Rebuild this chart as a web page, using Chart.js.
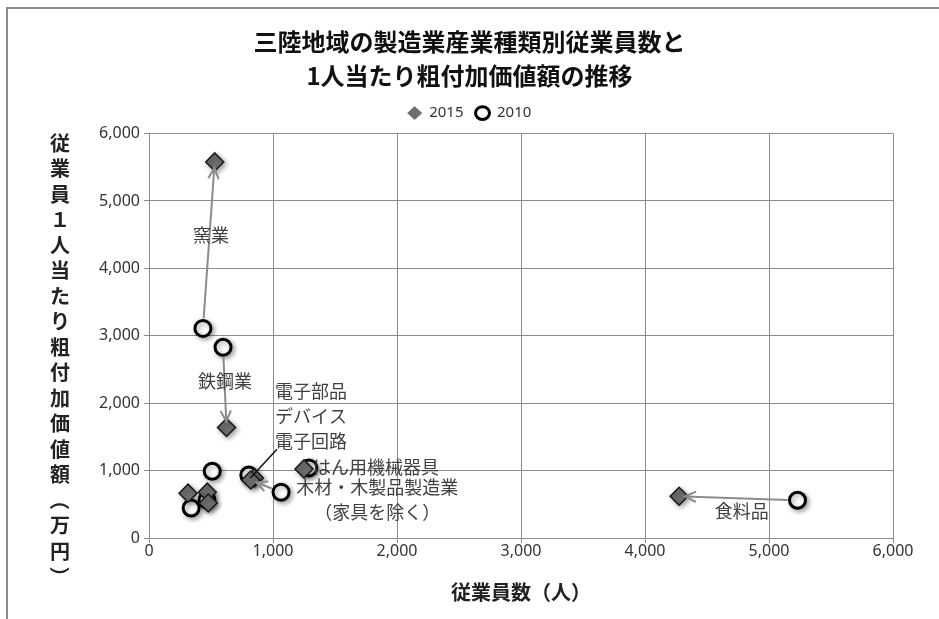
<!DOCTYPE html>
<html>
<head>
<meta charset="utf-8">
<script src="https://cdn.jsdelivr.net/npm/chart.js@4.4.0/dist/chart.umd.min.js"></script>
<style>
  html, body { margin: 0; padding: 0; background: #fff; }
  #wrap { width: 939px; height: 619px; position: relative; }
</style>
</head>
<body>
<div id="wrap"><canvas id="scatterChart"></canvas></div>
<script>
// 三陸地域 製造業: 従業員数 vs 1人当たり粗付加価値額 (2010 -> 2015)

// industries ('' = unlabelled on the chart)
const industries = ['窯業', '鉄鋼業', '電子部品・デバイス・電子回路', 'はん用機械器具',
  '木材・木製品製造業（家具を除く）', '食料品', '', '', ''];
const employees2015 = [530, 625, 850, 1250, 820, 4275, 315, 470, 478];
const valuePerWorker2015 = [5580, 1640, 890, 1025, 860, 620, 665, 680, 520];
const employees2010 = [435, 597, 805, 1290, 1065, 5230, 340, 510, 468];
const valuePerWorker2010 = [3110, 2830, 935, 1040, 680, 560, 445, 990, 563];
const seriesNames = ['2015', '2010'];
const xTicks = [0, 1000, 2000, 3000, 4000, 5000, 6000];
const yTicks = [0, 1000, 2000, 3000, 4000, 5000, 6000];

// industries that get a 2010 -> 2015 arrow
const arrowIndustries = ['窯業', '鉄鋼業', '木材・木製品製造業（家具を除く）', '食料品'];

const FONT_JP = "'Noto Sans CJK JP', sans-serif";
const GRID = '#8c8c8c';

function toPoints(xs, ys) {
  return xs.map((x, i) => ({ x: x, y: ys[i] }));
}

// labels placed in data units, offsets in px
const annotationLabels = [
  { lines: ['窯業'], x: 500, y: 4500, align: 'center' },
  { lines: ['鉄鋼業'], x: 613, y: 2330, align: 'center' },
  { lines: ['電子部品', 'デバイス', '電子回路'], x: 1016, y: 2178, align: 'left', leaderTo: '電子部品・デバイス・電子回路' },
  { lines: ['はん用機械器具'], x: 1323, y: 1052, align: 'left' },
  { lines: ['木材・木製品製造業', '（家具を除く）'], x: 1840, y: 756, align: 'center' },
  { lines: ['食料品'], x: 4780, y: 400, align: 'center' }
];

function drawArrow(ctx, x1, y1, x2, y2, startTrim, endTrim) {
  const ang = Math.atan2(y2 - y1, x2 - x1);
  const sx = x1 + Math.cos(ang) * startTrim, sy = y1 + Math.sin(ang) * startTrim;
  const ex = x2 - Math.cos(ang) * endTrim, ey = y2 - Math.sin(ang) * endTrim;
  ctx.beginPath();
  ctx.moveTo(sx, sy);
  ctx.lineTo(ex, ey);
  ctx.stroke();
  const h = 12, a = Math.PI / 7;
  ctx.beginPath();
  ctx.moveTo(ex - h * Math.cos(ang - a), ey - h * Math.sin(ang - a));
  ctx.lineTo(ex, ey);
  ctx.lineTo(ex - h * Math.cos(ang + a), ey - h * Math.sin(ang + a));
  ctx.stroke();
}

// outer frame + white background
const framePlugin = {
  id: 'frame',
  beforeDraw(chart) {
    const ctx = chart.ctx;
    ctx.save();
    ctx.fillStyle = '#fff';
    ctx.fillRect(0, 0, chart.width, chart.height);
    ctx.strokeStyle = '#8a8a8a';
    ctx.lineWidth = 2;
    ctx.beginPath();
    ctx.moveTo(7, chart.height);
    ctx.lineTo(7, 8);
    ctx.lineTo(chart.width, 8);
    ctx.stroke();
    ctx.restore();
  }
};

// soft marker shadows, then arrows and labels on top
const annotatePlugin = {
  id: 'annotate',
  beforeDatasetsDraw(chart) {
    const ctx = chart.ctx;
    ctx.save();
    ctx.shadowColor = 'rgba(0,0,0,0.35)';
    ctx.shadowBlur = 5;
    ctx.shadowOffsetX = 2;
    ctx.shadowOffsetY = 2;
  },
  afterDatasetsDraw(chart) {
    const ctx = chart.ctx;
    ctx.restore();
    const xs = chart.scales.x, ys = chart.scales.y;

    ctx.save();
    ctx.strokeStyle = '#8c8c8c';
    ctx.lineWidth = 2;
    arrowIndustries.forEach(name => {
      const i = industries.indexOf(name);
      drawArrow(ctx,
        xs.getPixelForValue(employees2010[i]), ys.getPixelForValue(valuePerWorker2010[i]),
        xs.getPixelForValue(employees2015[i]), ys.getPixelForValue(valuePerWorker2015[i]),
        10, 6);
    });

    ctx.font = '18px ' + FONT_JP;
    ctx.fillStyle = '#404040';
    ctx.textBaseline = 'middle';
    annotationLabels.forEach(lab => {
      const px = xs.getPixelForValue(lab.x), py = ys.getPixelForValue(lab.y);
      ctx.textAlign = lab.align;
      lab.lines.forEach((t, k) => ctx.fillText(t, px, py + k * 25));
      if (lab.leaderTo) {
        const i = industries.indexOf(lab.leaderTo);
        ctx.strokeStyle = '#111';
        ctx.lineWidth = 1.5;
        ctx.beginPath();
        ctx.moveTo(px + 2, py + (lab.lines.length - 1) * 25 + 8);
        ctx.lineTo(xs.getPixelForValue(employees2015[i]) - 4, ys.getPixelForValue(valuePerWorker2015[i]));
        ctx.stroke();
      }
    });
    ctx.restore();
  },
  afterDraw(chart) {
    // vertical y-axis title, one character per line
    const ctx = chart.ctx;
    const chars = Array.from('従業員１人当たり粗付加価値額（万円）');
    ctx.save();
    ctx.font = 'bold 20px ' + FONT_JP;
    ctx.fillStyle = '#222';
    ctx.textAlign = 'center';
    ctx.textBaseline = 'middle';
    chars.forEach((ch, i) => {
      const y = 143 + i * 25.5;
      if (ch === '（' || ch === '）') {
        ctx.save();
        ctx.translate(60, y);
        ctx.rotate(Math.PI / 2);
        ctx.fillText(ch, 0, 0);
        ctx.restore();
      } else {
        ctx.fillText(ch, 60, y);
      }
    });
    ctx.restore();
  }
};

let scatterChart = null;

// empty spacer axis (no ticks, no grid) used only to reserve room
function spacer(position, size) {
  return {
    type: 'linear',
    position: position,
    display: true,
    grid: { display: false, drawTicks: false },
    border: { display: false },
    ticks: { display: false },
    afterFit: s => {
      if (s.isHorizontal()) s.height = size; else s.width = size;
    }
  };
}

function initChart() {
  const ctx = document.getElementById('scatterChart').getContext('2d');
  Chart.defaults.font.family = FONT_JP;

  scatterChart = new Chart(ctx, {
    type: 'scatter',
    data: {
      datasets: [
        {
          label: seriesNames[0],
          data: toPoints(employees2015, valuePerWorker2015),
          pointStyle: 'rectRot',
          pointRadius: 9,
          pointHoverRadius: 9,
          backgroundColor: '#6e6e6e',
          borderColor: '#1a1a1a',
          borderWidth: 1.5
        },
        {
          label: seriesNames[1],
          data: toPoints(employees2010, valuePerWorker2010),
          pointStyle: 'circle',
          pointRadius: 8,
          pointHoverRadius: 8,
          backgroundColor: '#ffffff',
          borderColor: '#000000',
          borderWidth: 3
        }
      ]
    },
    options: {
      responsive: true,
      maintainAspectRatio: false,
      animation: false,
      layout: { padding: { left: 23, right: 23, top: 0, bottom: 0 } },
      plugins: {
        title: {
          display: true,
          text: ['三陸地域の製造業産業種類別従業員数と', '1人当たり粗付加価値額の推移'],
          color: '#111',
          font: { family: FONT_JP, size: 24, weight: 'bold', lineHeight: 1.45 },
          padding: { top: 24, bottom: 0 }
        },
        legend: {
          position: 'top',
          labels: {
            usePointStyle: true,
            boxWidth: 9,
            boxHeight: 9,
            pointStyleWidth: 14,
            padding: 12,
            color: '#333',
            font: { family: "'Noto Sans', sans-serif", size: 15 },
            generateLabels(chart) {
              const items = Chart.defaults.plugins.legend.labels.generateLabels(chart);
              items[0].strokeStyle = '#6e6e6e'; // plain gray diamond in legend
              items[0].lineWidth = 1;
              return items;
            }
          }
        },
        tooltip: { enabled: false }
      },
      scales: {
        x: {
          type: 'linear',
          min: 0,
          max: 6000,
          afterBuildTicks: s => { s.ticks = xTicks.map(v => ({ value: v })); },
          afterFit: s => { s.height = 81; },
          ticks: {
            callback: v => v.toLocaleString('en-US'),
            color: '#333',
            padding: 0,
            font: { family: "'Noto Sans', sans-serif", size: 16, lineHeight: 1 }
          },
          grid: { color: GRID, tickLength: 5 },
          border: { color: GRID },
          title: {
            display: true,
            text: '従業員数（人）',
            color: '#222',
            font: { family: FONT_JP, size: 20, weight: 'bold' },
            padding: { top: 0, bottom: 15 }
          }
        },
        y: {
          type: 'linear',
          min: 0,
          max: 6000,
          afterBuildTicks: s => { s.ticks = yTicks.map(v => ({ value: v })); },
          afterFit: s => { s.width = 126; },
          ticks: {
            callback: v => v.toLocaleString('en-US'),
            color: '#333',
            padding: 4,
            font: { family: "'Noto Sans', sans-serif", size: 16 }
          },
          grid: { color: GRID, tickLength: 5 },
          border: { color: GRID }
        },
        padTop: spacer('top', 3),
        padRight: spacer('right', 23)
      }
    },
    plugins: [framePlugin, annotatePlugin]
  });
}

document.addEventListener('DOMContentLoaded', () => {
  initChart();
});
</script>
</body>
</html>
